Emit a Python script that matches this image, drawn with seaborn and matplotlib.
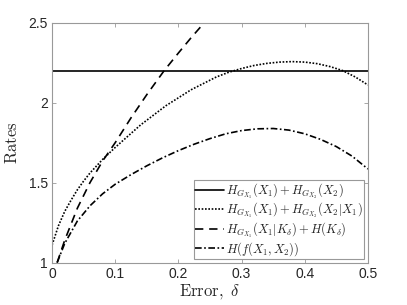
import numpy as np
import pandas as pd
import matplotlib
matplotlib.use("Agg")
import matplotlib.pyplot as plt
import seaborn as sns

# values
delta_solid = [0.0, 0.5]
rate_solid = [2.2, 2.2]

delta_dotted = [0.0, 0.01, 0.02, 0.03, 0.04, 0.05, 0.06, 0.08, 0.10, 0.12, 0.14,
                0.16, 0.18, 0.20, 0.22, 0.24, 0.26, 0.28, 0.30, 0.32, 0.34, 0.36,
                0.38, 0.40, 0.42, 0.44, 0.46, 0.48, 0.50]
rate_dotted = [1.11, 1.23, 1.32, 1.39, 1.455, 1.51, 1.56, 1.645, 1.72, 1.79, 1.86,
               1.92, 1.98, 2.03, 2.08, 2.12, 2.16, 2.19, 2.213, 2.232, 2.245, 2.253,
               2.256, 2.253, 2.243, 2.225, 2.20, 2.16, 2.11]

delta_dashed = [0.008, 0.02, 0.04, 0.06, 0.08, 0.10, 0.125, 0.15, 0.1775, 0.20,
                0.22, 0.24, 0.26]
rate_dashed = [1.0, 1.14, 1.34, 1.50, 1.635, 1.75, 1.905, 2.05, 2.2, 2.31,
               2.405, 2.495, 2.59]

delta_dashdot = [0.008, 0.02, 0.04, 0.06, 0.08, 0.10, 0.125, 0.15, 0.175, 0.20,
                 0.225, 0.25, 0.275, 0.30, 0.325, 0.35, 0.375, 0.40, 0.425, 0.45,
                 0.475, 0.50]
rate_dashdot = [1.0, 1.12, 1.26, 1.355, 1.43, 1.49, 1.55, 1.605, 1.655, 1.70,
                1.74, 1.775, 1.805, 1.825, 1.836, 1.838, 1.828, 1.805, 1.77, 1.725,
                1.665, 1.585]

labels = [r"$H_{G_{X_1}}(X_1) + H_{G_{X_2}}(X_2)$",
          r"$H_{G_{X_1}}(X_1) + H_{G_{X_2}}(X_2|X_1)$",
          r"$H_{G_{X_1}}(X_1|K_\delta) + H(K_\delta)$",
          r"$H(f(X_1, X_2))$"]

sns.set_style("ticks")
plt.rcParams["font.family"] = ["Liberation Sans", "DejaVu Sans"]
plt.rcParams["mathtext.fontset"] = "cm"

fig = plt.figure(figsize=(4.07, 3.05), dpi=100)
ax = fig.add_axes([0.128, 0.139, 0.776, 0.787])

series = [
    (delta_solid, rate_solid, "-"),
    (delta_dotted, rate_dotted, (0, (1, 1))),
    (delta_dashed, rate_dashed, (0, (5, 3.5))),
    (delta_dashdot, rate_dashdot, (0, (4, 1.5, 1, 1.5))),
]
for (d, r, ls), lab in zip(series, labels):
    df = pd.DataFrame({"delta": d, "rate": r})
    sns.lineplot(data=df, x="delta", y="rate", ax=ax, color="black",
                 linestyle=ls, linewidth=1.2, label=lab)

ax.set_xlim(0, 0.5)
ax.set_ylim(1, 2.5)
ax.set_xticks([0, 0.1, 0.2, 0.3, 0.4, 0.5])
ax.set_xticklabels(["0", "0.1", "0.2", "0.3", "0.4", "0.5"])
ax.set_yticks([1, 1.5, 2, 2.5])
ax.set_yticklabels(["1", "1.5", "2", "2.5"])
ax.tick_params(direction="in", length=3, width=0.6, colors="#999999",
               labelcolor="#262626", labelsize=10, top=True, right=True, pad=3)
for s in ax.spines.values():
    s.set_color("#999999")
    s.set_linewidth(0.8)

ax.set_xlabel(r"$\mathrm{Error},\ \delta$", fontsize=12, color="#262626", labelpad=1)
ax.set_ylabel(r"$\mathrm{Rates}$", fontsize=12, color="#262626", labelpad=6)

leg = ax.legend(loc="lower right", fontsize=9, frameon=True, fancybox=False,
                framealpha=1, edgecolor="#999999", handlelength=2.3,
                handletextpad=0.2, borderpad=0.1, labelspacing=0.0,
                borderaxespad=0.3)
leg.get_frame().set_linewidth(0.8)

fig.savefig("out.png", dpi=100)
